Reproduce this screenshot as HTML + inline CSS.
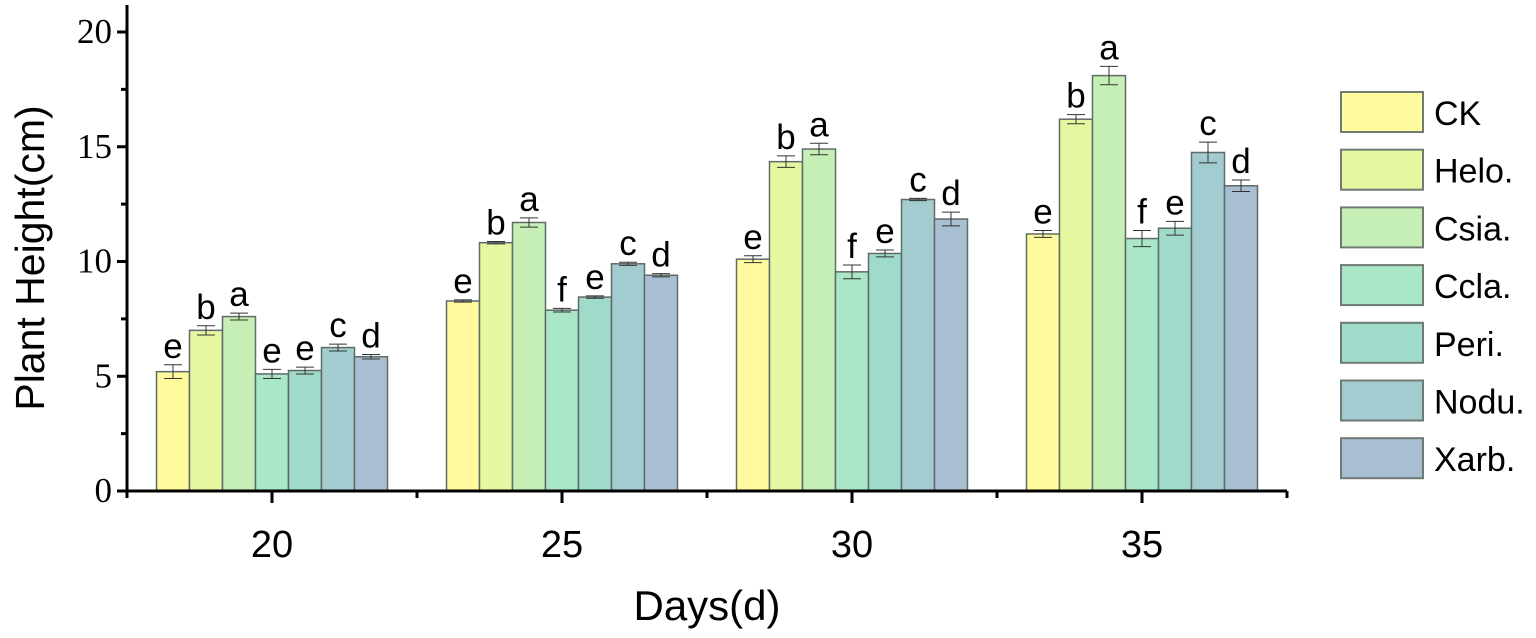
<!DOCTYPE html>
<html><head><meta charset="utf-8"><style>
body{margin:0;background:#fff;}
svg{display:block;}
</style></head><body>
<svg id="chart" width="1536" height="638" xmlns="http://www.w3.org/2000/svg">
<g id="bars"></g>
<g id="axes"></g>
<g id="legend"></g>
<text x="0" y="0" transform="translate(44,258) rotate(-90)" text-anchor="middle" font-family="Liberation Sans, sans-serif" font-size="41">Plant Height(cm)</text>
<text x="707" y="620" text-anchor="middle" font-family="Liberation Sans, sans-serif" font-size="42">Days(d)</text>
</svg>
<script>
const categories = ["20","25","30","35"];
const seriesNames = ["CK","Helo.","Csia.","Ccla.","Peri.","Nodu.","Xarb."];
const ck   = [5.2, 8.28, 10.1, 11.2];
const helo = [7.0, 10.82, 14.35, 16.2];
const csia = [7.6, 11.7, 14.9, 18.1];
const ccla = [5.1, 7.88, 9.55, 11.0];
const peri = [5.25, 8.45, 10.35, 11.45];
const nodu = [6.25, 9.9, 12.7, 14.75];
const xarb = [5.85, 9.4, 11.85, 13.3];
const errCk=[0.3,0.05,0.15,0.15], errHelo=[0.2,0.05,0.25,0.2], errCsia=[0.15,0.2,0.25,0.4], errCcla=[0.2,0.08,0.3,0.35], errPeri=[0.15,0.05,0.15,0.3], errNodu=[0.15,0.07,0.05,0.45], errXarb=[0.1,0.07,0.3,0.25];
const lettersCk=["e","e","e","e"], lettersHelo=["b","b","b","b"], lettersCsia=["a","a","a","a"], lettersCcla=["e","f","f","f"], lettersPeri=["e","e","e","e"], lettersNodu=["c","c","c","c"], lettersXarb=["d","d","d","d"];
const yTicks=[0,5,10,15,20];

const series=[ck,helo,csia,ccla,peri,nodu,xarb];
const errs=[errCk,errHelo,errCsia,errCcla,errPeri,errNodu,errXarb];
const letters=[lettersCk,lettersHelo,lettersCsia,lettersCcla,lettersPeri,lettersNodu,lettersXarb];
const colors=["#fffa9e","#e6f7a2","#c6efb6","#aae7c9","#9fdacb","#a3ccd1","#a8bfd3"];
const NS="http://www.w3.org/2000/svg";
const x0=127,x1=1287,yBase=491,yTop=32,band=(x1-x0)/categories.length,bw=33;
const y=v=>yBase-(v/20)*(yBase-yTop);
function mk(tag,attrs,parent){const e=document.createElementNS(NS,tag);for(const k in attrs)e.setAttribute(k,attrs[k]);parent.appendChild(e);return e;}
const gb=document.getElementById('bars'),ga=document.getElementById('axes'),gl=document.getElementById('legend');
categories.forEach((c,ci)=>{
  const cx=x0+band*(ci+0.5);
  series.forEach((s,si)=>{
    const bx=cx-bw*3.5+si*bw, v=s[ci];
    const r=mk('rect',{x:bx,y:y(v),width:bw,height:yBase-y(v),fill:colors[si],stroke:"#5f6b66","stroke-width":1.5},gb);
    
    
    const m=bx+bw/2,e=errs[si][ci];
    const eb=mk('path',{d:`M${m-9},${y(v+e)}H${m+9}M${m},${y(v+e)}V${y(v-e)}M${m-9},${y(v-e)}H${m+9}`,stroke:"#333",fill:"none","stroke-width":1},gb);
    
    
    const t=mk('text',{x:m,y:y(v+e)-7,"text-anchor":"middle","font-family":"Liberation Sans, sans-serif","font-size":35},gb);
    t.textContent=letters[si][ci];
    
    
  });
  const tl=mk('text',{x:cx,y:557,"text-anchor":"middle","font-family":"Liberation Sans, sans-serif","font-size":38},ga);
  tl.textContent=c;
  
  
  mk('line',{x1:cx,x2:cx,y1:yBase,y2:yBase+12,stroke:"#000","stroke-width":3},ga);
});
for(let i=0;i<=categories.length;i++){const xx=x0+band*i;mk('line',{x1:xx,x2:xx,y1:yBase,y2:yBase+7,stroke:"#000","stroke-width":3},ga);}
mk('line',{x1:x0,x2:x1,y1:yBase,y2:yBase,stroke:"#000","stroke-width":3},ga);
mk('line',{x1:x0,x2:x0,y1:5,y2:yBase+1,stroke:"#000","stroke-width":3},ga);
yTicks.forEach(v=>{
  mk('line',{x1:x0-10,x2:x0,y1:y(v),y2:y(v),stroke:"#000","stroke-width":3},ga);
  const t=mk('text',{x:x0-15,y:y(v)+11,"text-anchor":"end","font-family":"Liberation Serif, serif","font-size":35},ga);
  t.textContent=v;
  
  
  if(v<20) mk('line',{x1:x0-6,x2:x0,y1:y(v+2.5),y2:y(v+2.5),stroke:"#000","stroke-width":3},ga);
});
seriesNames.forEach((n,i)=>{
  const yy=92+i*57.7;
  const r=mk('rect',{x:1341,y:yy,width:82,height:40,fill:colors[i],stroke:"#6f7a74","stroke-width":2},gl);
  
  
  const t=mk('text',{x:1434,y:yy+33,"font-family":"Liberation Sans, sans-serif","font-size":34},gl);
  t.textContent=n;
  
  
});
</script>
</body></html>
